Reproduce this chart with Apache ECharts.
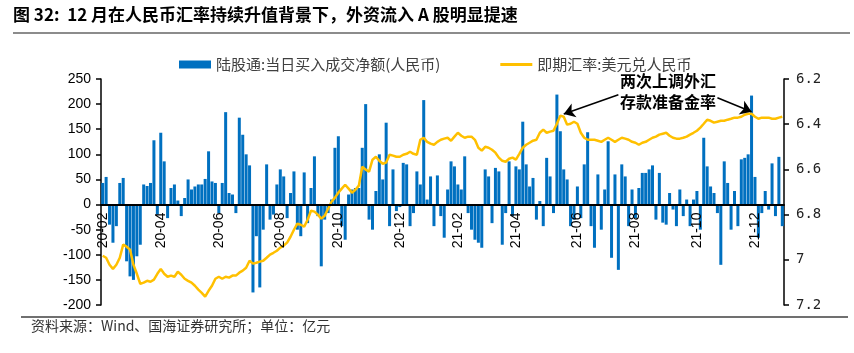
<!DOCTYPE html>
<html>
<head>
<meta charset="utf-8">
<script src="https://cdn.jsdelivr.net/npm/echarts@6/dist/echarts.min.js"></script>
<style>
html, body { margin: 0; padding: 0; background: #fff; }
#main { width: 854px; height: 353px; }
</style>
</head>
<body>
<div id="main"></div>
<script>
// 陆股通:当日买入成交净额(亿元)，每周一、周四各取一个点
var flowValues = [
  43, 55, -40, -76, -43, 43, 53, -113, -143, -150,
  -103, -80, 40, 37, 43, 128, -20, 143, 86, -27,
  33, 40, 8, -23, 13, 50, 30, 36, 40, 40,
  51, 106, 46, 43, -17, 43, 184, 23, 20, -17,
  173, 139, 100, 78, -175, -63, -165, -50, 80, -30,
  -20, 40, 70, 56, -27, 23, 66, -50, -63, 64,
  -37, 33, 96, -23, -123, -30, -17, 10, 113, 136,
  -43, -70, 20, 30, 33, 33, 113, 200, -30, -50,
  27, 100, 50, 163, -43, 70, -13, -5, 83, 80,
  -43, -17, 66, 40, 208, 10, 56, -43, 58, -23,
  -66, 30, 86, 76, 40, 30, 96, -17, -50, -70,
  -76, -86, 70, 56, -37, 73, 66, -80, -17, 86,
  -23, 76, 70, 165, 80, 36, 53, -30, 7, -43,
  93, 56, -17, 219, 146, 70, 50, -43, -30, 36,
  -27, 80, 144, -43, -86, 60, -50, 30, 126, -106,
  60, -130, 80, 56, -43, 30, -27, 33, 63, 63,
  70, 78, -30, 63, -36, -40, 23, -10, -43, 30,
  -23, 10, -43, 10, 27, -50, 133, 76, 36, 23,
  -17, -120, 86, 43, -50, 27, -43, 90, 93, 100,
  217, 55, -66, -17, 27, -10, 82, -23, 95, -43
];

// 即期汇率:美元兑人民币
var rateValues = [
  6.982, 6.991, 7.022, 7.040, 7.022, 6.991, 6.933, 6.942, 6.955, 7.022,
  7.062, 7.106, 7.101, 7.093, 7.097, 7.088, 7.062, 7.040, 7.062, 7.075,
  7.070, 7.075, 7.053, 7.066, 7.084, 7.093, 7.101, 7.115, 7.132, 7.146,
  7.163, 7.137, 7.115, 7.084, 7.075, 7.084, 7.075, 7.079, 7.070, 7.070,
  7.057, 7.048, 7.035, 7.004, 7.017, 7.013, 7.008, 7.004, 6.991, 6.977,
  6.969, 6.960, 6.946, 6.937, 6.924, 6.898, 6.867, 6.840, 6.845, 6.853,
  6.823, 6.783, 6.787, 6.800, 6.818, 6.805, 6.774, 6.743, 6.725, 6.703,
  6.685, 6.668, 6.685, 6.703, 6.690, 6.672, 6.588, 6.601, 6.610, 6.557,
  6.544, 6.562, 6.575, 6.570, 6.535, 6.539, 6.544, 6.544, 6.535, 6.531,
  6.522, 6.531, 6.535, 6.469, 6.460, 6.478, 6.486, 6.491, 6.478, 6.469,
  6.464, 6.460, 6.473, 6.455, 6.438, 6.451, 6.460, 6.455, 6.455, 6.469,
  6.504, 6.517, 6.500, 6.504, 6.513, 6.526, 6.548, 6.562, 6.566, 6.553,
  6.548, 6.557, 6.531, 6.504, 6.491, 6.482, 6.473, 6.469, 6.438, 6.424,
  6.438, 6.433, 6.429, 6.398, 6.362, 6.367, 6.402, 6.398, 6.389, 6.398,
  6.438, 6.460, 6.469, 6.469, 6.469, 6.473, 6.478, 6.469, 6.460, 6.469,
  6.478, 6.469, 6.460, 6.464, 6.469, 6.478, 6.482, 6.491, 6.482, 6.478,
  6.469, 6.460, 6.455, 6.446, 6.442, 6.438, 6.451, 6.460, 6.464, 6.464,
  6.460, 6.455, 6.446, 6.438, 6.429, 6.415, 6.398, 6.380, 6.385, 6.393,
  6.389, 6.385, 6.385, 6.380, 6.376, 6.371, 6.371, 6.367, 6.358, 6.354,
  6.354, 6.367, 6.376, 6.371, 6.371, 6.371, 6.376, 6.376, 6.371, 6.367
];

// 日期：2020-02-03 起每周一、周四
var dates = [];
function pad(n) { return n < 10 ? '0' + n : '' + n; }
for (var w = 0; w < 100; w++) {
  [0, 3].forEach(function (d) {
    var t = new Date(2020, 1, 3 + w * 7 + d);
    dates.push(t.getFullYear() + '-' + pad(t.getMonth() + 1) + '-' + pad(t.getDate()));
  });
}

// 双月月初显示刻度
function isLabel(i) {
  var m = dates[i].slice(5, 7);
  if (+m % 2) return false;
  return i === 0 || dates[i - 1].slice(5, 7) !== m;
}

var gridTop = 79, gridBottom = 48, chartH = 353;
var leftMin = -200, leftMax = 250;
// 横轴放在左轴 0 处
var zeroOffset = -(chartH - gridTop - gridBottom) * (0 - leftMin) / (leftMax - leftMin);

var chart = echarts.init(document.getElementById('main'));
chart.setOption({
  animation: false,
  grid: { left: 101, right: 70, top: gridTop, bottom: gridBottom },
  legend: {
    left: 174,
    top: 52,
    itemWidth: 32,
    itemHeight: 8,
    itemGap: 60,
    textStyle: { fontFamily: 'Noto Sans CJK SC', fontSize: 15, color: '#404040' },
    data: [
      { name: '陆股通:当日买入成交净额(人民币)', icon: 'rect' },
      { name: '即期汇率:美元兑人民币', icon: 'path://M0 0H100V9H0Z' }
    ]
  },
  xAxis: {
    type: 'category',
    data: dates,
    z: 5,
    offset: zeroOffset,
    axisLine: { onZero: false, lineStyle: { color: '#000', width: 2 } },
    axisTick: {
      alignWithLabel: true,
      length: 5,
      interval: function (i) { return isLabel(i); },
      lineStyle: { color: '#000', width: 1.5 }
    },
    axisLabel: {
      rotate: 90,
      margin: 8,
      interval: function (i) { return isLabel(i); },
      formatter: function (v) { return v.slice(2, 7); },
      fontFamily: 'Liberation Sans',
      fontSize: 14,
      color: '#000'
    },
    splitLine: { show: false }
  },
  yAxis: [
    {
      type: 'value',
      min: leftMin,
      max: leftMax,
      interval: 50,
      axisLine: { show: true, lineStyle: { color: '#000', width: 1.5 } },
      axisTick: { show: true, length: 5, lineStyle: { color: '#000', width: 1.5 } },
      axisLabel: { fontFamily: 'Liberation Sans', fontSize: 14, color: '#000', margin: 10 },
      splitLine: { show: false }
    },
    {
      type: 'value',
      min: 6.2,
      max: 7.2,
      interval: 0.2,
      inverse: true,
      axisLine: { show: true, lineStyle: { color: '#000', width: 1.5 } },
      axisTick: { show: true, length: 5, lineStyle: { color: '#000', width: 1.5 } },
      axisLabel: {
        fontFamily: 'DejaVu Sans Mono',
        fontSize: 14,
        color: '#222',
        margin: 12,
        formatter: function (v) { return String(+v.toFixed(1)); }
      },
      splitLine: { show: false }
    }
  ],
  series: [
    {
      name: '陆股通:当日买入成交净额(人民币)',
      type: 'bar',
      data: flowValues,
      barWidth: '88%',
      itemStyle: { color: '#0070C0' }
    },
    {
      name: '即期汇率:美元兑人民币',
      type: 'line',
      yAxisIndex: 1,
      data: rateValues,
      symbol: 'none',
      z: 4,
      lineStyle: { color: '#FFC000', width: 2.5 },
      itemStyle: { color: '#FFC000' },
      markLine: {
        silent: true,
        symbol: ['none', 'arrow'],
        symbolSize: 11,
        label: { show: false },
        lineStyle: { color: '#000', width: 1.5, type: 'solid' },
        data: [
          [{ coord: [dates[151], 6.27] }, { coord: [dates[135], 6.355] }],
          [{ coord: [dates[180], 6.283] }, { coord: [dates[190], 6.345] }]
        ]
      }
    }
  ],
  graphic: [
    {
      type: 'text', left: 13, top: 6,
      style: { text: '图 32:  12 月在人民币汇率持续升值背景下，外资流入 A 股明显提速', font: 'bold 17px "Noto Sans CJK SC"', fill: '#000' }
    },
    { type: 'line', shape: { x1: 13, y1: 33, x2: 850, y2: 33 }, style: { stroke: '#8c8c8c', lineWidth: 2 } },
    { type: 'line', shape: { x1: 21, y1: 317, x2: 848, y2: 317 }, style: { stroke: '#404040', lineWidth: 1.5 } },
    {
      type: 'text', left: 31, top: 319,
      style: { text: '资料来源：Wind、国海证券研究所；单位：亿元', font: '14px "Noto Sans CJK SC"', fill: '#333' }
    },
    {
      type: 'text', left: 620, top: 73,
      style: { text: '两次上调外汇', font: 'bold 16px "Noto Sans CJK SC"', fill: '#000' }
    },
    {
      type: 'text', left: 620, top: 94,
      style: { text: '存款准备金率', font: 'bold 16px "Noto Sans CJK SC"', fill: '#000' }
    }
  ]
});
</script>
</body>
</html>
